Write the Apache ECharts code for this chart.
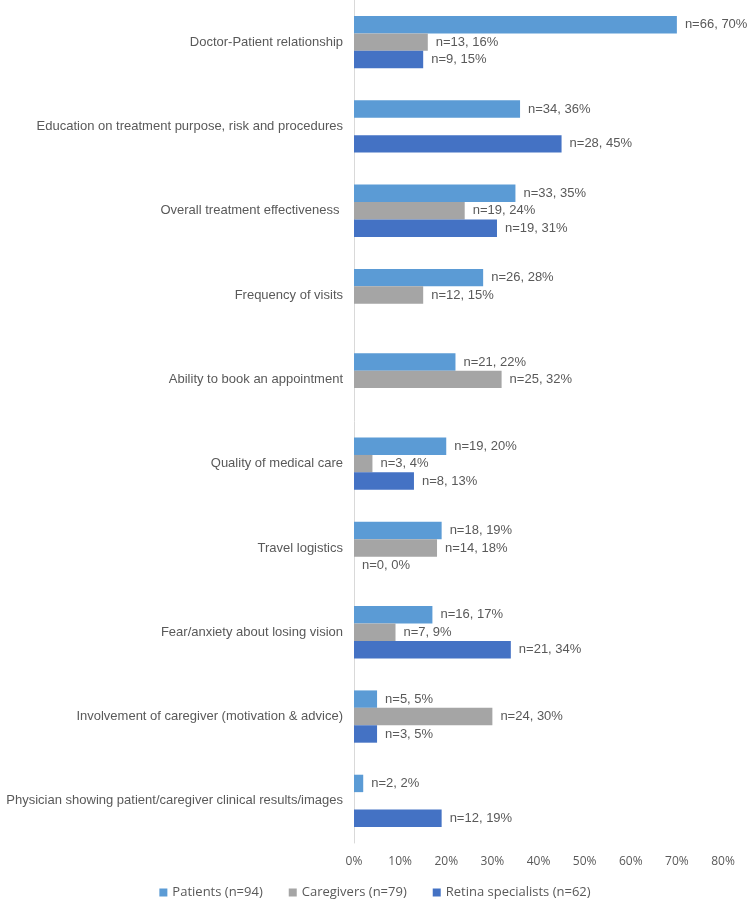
<!DOCTYPE html>
<html>
<head>
<meta charset="utf-8">
<script src="https://cdn.jsdelivr.net/npm/echarts@6/dist/echarts.min.js"></script>
<style>
  html, body { margin: 0; padding: 0; background: #fff; }
  #chart { width: 750px; height: 904px; }
</style>
</head>
<body>
<div id="chart"></div>
<script>
const categories = [
  'Doctor-Patient relationship',
  'Education on treatment purpose, risk and procedures',
  'Overall treatment effectiveness ',
  'Frequency of visits',
  'Ability to book an appointment',
  'Quality of medical care',
  'Travel logistics',
  'Fear/anxiety about losing vision',
  'Involvement of caregiver (motivation & advice)',
  'Physician showing patient/caregiver clinical results/images'
]
// percentages (null = no response shown)
const patientsPct = [70, 36, 35, 28, 22, 20, 19, 17, 5, 2]
const patientsN = [66, 34, 33, 26, 21, 19, 18, 16, 5, 2]
const caregiversPct = [16, null, 24, 15, 32, 4, 18, 9, 30, null]
const caregiversN = [13, null, 19, 12, 25, 3, 14, 7, 24, null]
const retinaPct = [15, 45, 31, null, null, 13, 0, 34, 5, 19]
const retinaN = [9, 28, 19, null, null, 8, 0, 21, 3, 12]
const seriesNames = ['Patients (n=94)', 'Caregivers (n=79)', 'Retina specialists (n=62)']
const colorList = ['#5B9BD5', '#A5A5A5', '#4472C4']

function makeSeries(name, pct, n, color) {
  return {
    name: name,
    type: 'bar',
    data: pct,
    barGap: '0%',
    barCategoryGap: '38%',
    itemStyle: { color: color },
    label: {
      show: true,
      position: 'right',
      distance: 8,
      color: '#595959',
      fontSize: 13,
      fontFamily: 'Liberation Sans',
      formatter: p => 'n=' + n[p.dataIndex] + ', ' + p.value + '%'
    }
  }
}

const chart = echarts.init(document.getElementById('chart'))
chart.setOption({
  backgroundColor: '#fff',
  animation: false,
  textStyle: { fontFamily: 'Liberation Sans' },
  grid: {
    left: 354,
    right: 27,
    top: 0,
    bottom: 61
  },
  legend: {
    data: seriesNames,
    bottom: 0,
    left: 'center',
    icon: 'rect',
    itemWidth: 8,
    itemHeight: 8,
    itemGap: 26,
    textStyle: { color: '#595959', fontSize: 13, fontFamily: 'Open Sans' }
  },
  xAxis: {
    type: 'value',
    min: 0,
    max: 80,
    interval: 10,
    axisLine: { show: false },
    axisTick: { show: false },
    splitLine: { show: false },
    axisLabel: {
      formatter: '{value}%',
      color: '#595959',
      fontSize: 12,
      fontFamily: 'Open Sans',
      margin: 13
    }
  },
  yAxis: {
    type: 'category',
    data: categories,
    inverse: true,
    axisLine: { show: true, lineStyle: { color: '#D9D9D9' } },
    axisTick: { show: false },
    axisLabel: {
      color: '#595959',
      fontSize: 13,
      fontFamily: 'Liberation Sans',
      margin: 11
    }
  },
  series: [
    makeSeries(seriesNames[0], patientsPct, patientsN, colorList[0]),
    makeSeries(seriesNames[1], caregiversPct, caregiversN, colorList[1]),
    makeSeries(seriesNames[2], retinaPct, retinaN, colorList[2])
  ]
})
</script>
</body>
</html>
